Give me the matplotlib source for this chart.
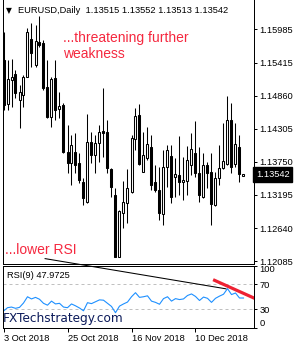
import matplotlib
matplotlib.use("Agg")
import matplotlib.pyplot as plt
import numpy as np

plt.rcParams['font.family'] = ['Liberation Sans', 'DejaVu Sans']

# EURUSD daily candles, 3 Oct 2018 onwards
opens = [1.15464, 1.14724, 1.15128, 1.15224, 1.14792, 1.14876, 1.15183, 1.15812, 1.15380, 1.15772,
         1.15745, 1.15005, 1.14511, 1.15156, 1.14635, 1.14707, 1.13922, 1.13727, 1.13912, 1.13727,
         1.13418, 1.13082, 1.14080, 1.13867, 1.14064, 1.14270, 1.14259, 1.13627, 1.13195, 1.12157,
         1.12887, 1.13065, 1.13250, 1.14131, 1.14539, 1.13586, 1.13811, 1.14006, 1.13408, 1.13279,
         1.12875, 1.13670, 1.13850, 1.13492, 1.13531, 1.13408, 1.13435, 1.13699, 1.13895, 1.13559,
         1.13156, 1.13699, 1.13576, 1.13026, 1.13475, 1.13643, 1.13716, 1.14455, 1.13711, 1.14006,
         1.13515]
highs = [1.15935, 1.15464, 1.15476, 1.15296, 1.15044, 1.15212, 1.15997, 1.16081, 1.16052, 1.16203,
         1.15800, 1.15464, 1.15183, 1.15464, 1.14931, 1.14736, 1.14371, 1.14203, 1.14232, 1.13895,
         1.13475, 1.14556, 1.14259, 1.14203, 1.14371, 1.14988, 1.14455, 1.13643, 1.13307, 1.12942,
         1.13435, 1.13627, 1.14203, 1.14652, 1.14724, 1.14259, 1.14343, 1.14203, 1.13699, 1.13670,
         1.13951, 1.14035, 1.14035, 1.13811, 1.14186, 1.13838, 1.14018, 1.14242, 1.14439, 1.14006,
         1.13895, 1.13754, 1.13895, 1.13586, 1.14035, 1.14400, 1.14859, 1.14741, 1.14400, 1.14203,
         1.13552]
lows = [1.14623, 1.14623, 1.14679, 1.14820, 1.14316, 1.14679, 1.15180, 1.15351, 1.15351, 1.15688,
        1.14960, 1.14484, 1.14343, 1.14455, 1.14484, 1.13895, 1.13559, 1.13363, 1.13559, 1.13391,
        1.13026, 1.13055, 1.13727, 1.13559, 1.13754, 1.13838, 1.13559, 1.13166, 1.12152, 1.12152,
        1.12635, 1.12719, 1.13223, 1.13951, 1.13699, 1.13580, 1.13783, 1.13279, 1.13250, 1.12774,
        1.12690, 1.13334, 1.13055, 1.13166, 1.13195, 1.13111, 1.13195, 1.13531, 1.13502, 1.13082,
        1.13139, 1.13307, 1.12690, 1.13015, 1.13363, 1.13627, 1.13699, 1.13559, 1.13670, 1.13418,
        1.13513]
closes = [1.14707, 1.15145, 1.15183, 1.14904, 1.14931, 1.15173, 1.15930, 1.15577, 1.15788, 1.15716,
          1.14988, 1.14511, 1.15139, 1.14623, 1.14696, 1.13922, 1.13727, 1.14035, 1.13699, 1.13447,
          1.13139, 1.14080, 1.13867, 1.14064, 1.14259, 1.14242, 1.13643, 1.13334, 1.12157, 1.12931,
          1.13082, 1.13307, 1.14158, 1.14523, 1.13716, 1.13867, 1.14047, 1.13363, 1.13279, 1.12897,
          1.13670, 1.13951, 1.13166, 1.13548, 1.13418, 1.13447, 1.13783, 1.13963, 1.13559, 1.13195,
          1.13699, 1.13569, 1.13038, 1.13475, 1.13643, 1.13766, 1.14455, 1.13670, 1.14047, 1.13543,
          1.13542]
rsi = [27, 32.5, 33.5, 31.5, 33, 40, 50, 46.5, 49, 46,
       39.5, 36.5, 43, 38.5, 39.5, 33.5, 32.5, 38.5, 35.5, 32,
       27.5, 40.5, 39, 42, 45, 44.5, 39.5, 34.5, 24.5, 35,
       38.5, 41.5, 50, 56.5, 49, 50, 51.5, 43, 41, 38,
       47, 50, 43, 47, 45.5, 46.5, 52, 54.5, 50.5, 44,
       49.5, 47.5, 41, 47.5, 51, 54, 63, 53.5, 56, 48, 47.97]

price_ticks = [1.15985, 1.15415, 1.14860, 1.14305, 1.13750, 1.13195, 1.12640, 1.12085]
date_pos = [0, 16, 32, 48]
date_labels = ['3 Oct 2018', '25 Oct 2018', '16 Nov 2018', '10 Dec 2018']
rsi_levels = [30, 70]
rsi_ticks = [100, 70, 30, 0]
rsi_last = 47.9725
# hand drawn trend lines (bar index, rsi value)
black_tl_x, black_tl_y = [10.4, 55.6], [111, 62.7]
red_tl_x, red_tl_y = [52.4, 63.5], [77.3, 45.4]

W, H = 300, 350
fig = plt.figure(figsize=(3, 3.5), dpi=100)
ax = fig.add_axes([2.7 / W, 1 - 264 / H, (254 - 2.7) / W, 264 / H])
ax2 = fig.add_axes([2.7 / W, 1 - 328 / H, (254 - 2.7) / W, (328 - 265.5) / H])

x = np.arange(len(opens))
o = np.array(opens)
c = np.array(closes)
up = c >= o
lo = np.minimum(o, c)
hgt = np.maximum(np.abs(c - o), 0.00003)

# candles
ax.vlines(x, lows, highs, color='black', lw=0.75, zorder=2)
ax.bar(x[up], hgt[up], 0.5, bottom=lo[up], color='white', edgecolor='black', lw=0.75, zorder=3)
ax.bar(x[~up], hgt[~up], 0.5, bottom=lo[~up], color='black', edgecolor='black', lw=0.75, zorder=3)

ax.set_xlim(-0.2, 62.625)
ax.set_ylim(1.12035, 1.164725)
ax.yaxis.tick_right()
ax.set_yticks(price_ticks)
ax.set_yticklabels([f'{v:.5f}' for v in price_ticks])
ax.tick_params(axis='y', direction='out', length=2.2, width=0.72, pad=1.5, labelsize=6.7)
ax.set_xticks([])
ax.spines['top'].set_visible(False)
for s in ax.spines.values():
    s.set_linewidth(0.72)

# last price box
ax.text(1.008, closes[-1], f'{closes[-1]:.5f}', transform=ax.get_yaxis_transform(),
        ha='left', va='center', color='white', fontsize=6.7,
        bbox=dict(boxstyle='square,pad=0.3', fc='black', ec='black'))

# RSI panel
for lv in rsi_levels:
    ax2.axhline(lv, color='#c0c0c0', lw=0.72, ls=(0, (3, 3)))
ax2.plot(x, rsi, color='#1e90ff', lw=0.8)
ax2.plot(black_tl_x, black_tl_y, color='black', lw=0.75, clip_on=False)
ax2.plot(red_tl_x, red_tl_y, color='#ee2233', lw=2.3, solid_capstyle='butt')
ax2.set_xlim(-0.2, 62.625)
ax2.set_ylim(0, 100)
ax2.yaxis.tick_right()
ax2.set_yticks(rsi_ticks)
ax2.set_yticklabels([str(v) for v in rsi_ticks])
for t in ax2.get_yticklabels():
    if t.get_text() == '100':
        t.set_va('top')
    elif t.get_text() == '0':
        t.set_va('bottom')
ax2.set_xticks(date_pos)
ax2.set_xticklabels(date_labels)
for t in ax2.get_xticklabels():
    t.set_ha('left')
ax2.tick_params(axis='y', direction='out', length=2.2, width=0.72, pad=1.5, labelsize=6.7)
ax2.tick_params(axis='x', direction='out', length=3, width=0.72, pad=1.5, labelsize=6.7)
for s in ax2.spines.values():
    s.set_linewidth(0.72)

# texts
fig.text(6 / W, 1 - 10.5 / H, '\u25bc', fontsize=5.5, va='center', family=['DejaVu Sans'])
fig.text(18 / W, 1 - 10.5 / H,
         f'EURUSD,Daily  {opens[-1]:.5f} {highs[-1]:.5f} {lows[-1]:.5f} {closes[-1]:.5f}',
         fontsize=6.7, va='center')
red = '#f5283f'
fig.text(62.7 / W, 1 - 41.7 / H, '...threatening further', color=red, fontsize=10, va='baseline')
fig.text(62.7 / W, 1 - 58.3 / H, 'weakness', color=red, fontsize=10, va='baseline')
fig.text(5 / W, 1 - 254 / H, '...lower RSI', color=red, fontsize=10, va='baseline')
fig.text(7 / W, 1 - 275 / H, f'RSI(9) {rsi_last}', fontsize=6.7, va='center')
fig.text(3 / W, 1 - 322 / H, 'FXTechstrategy.com', color='#0b1a5a', fontsize=8.7,
         va='baseline', family=['DejaVu Sans'])

fig.savefig('out.png', dpi=100, facecolor='white')
